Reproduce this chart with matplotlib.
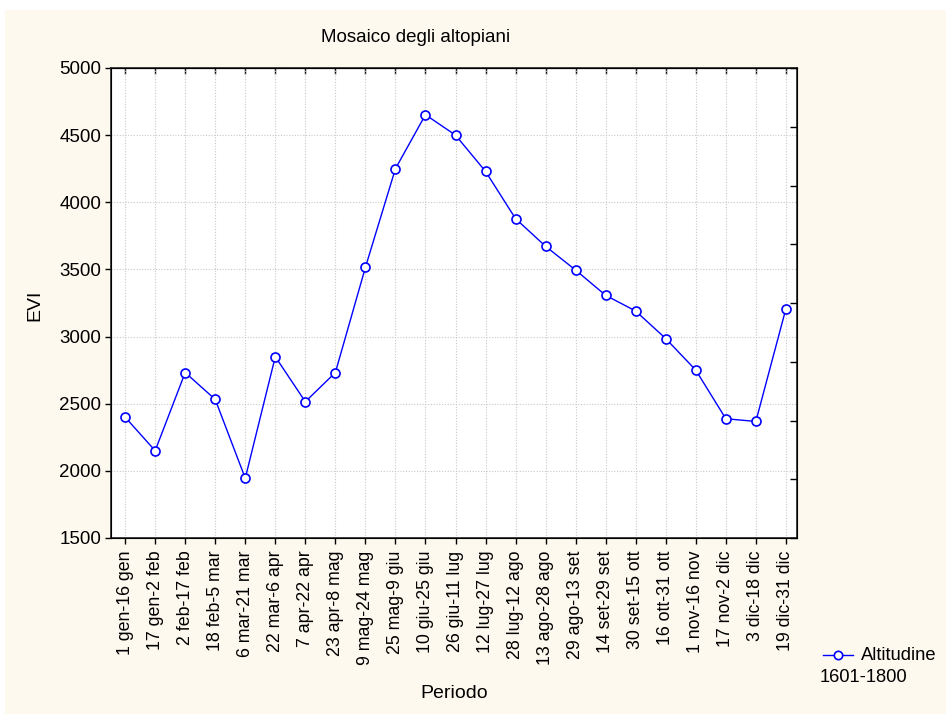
import matplotlib.pyplot as plt
from matplotlib.lines import Line2D
from matplotlib.patches import Rectangle
import numpy as np

plt.rcParams['font.family'] = ['Liberation Sans', 'DejaVu Sans']

# Periods (labels on x axis)
periodi = [
    "1 gen-16 gen", "17 gen-2 feb", "2 feb-17 feb", "18 feb-5 mar",
    "6 mar-21 mar", "22 mar-6 apr", "7 apr-22 apr", "23 apr-8 mag",
    "9 mag-24 mag", "25 mag-9 giu", "10 giu-25 giu", "26 giu-11 lug",
    "12 lug-27 lug", "28 lug-12 ago", "13 ago-28 ago", "29 ago-13 set",
    "14 set-29 set", "30 set-15 ott", "16 ott-31 ott", "1 nov-16 nov",
    "17 nov-2 dic", "3 dic-18 dic", "19 dic-31 dic",
]

# EVI values
evi = [2400, 2150, 2732, 2532, 1945, 2850, 2515, 2732, 3515, 4250, 4652,
       4500, 4230, 3878, 3672, 3495, 3307, 3190, 2985, 2750, 2388, 2368, 3207]

yticks = [1500, 2000, 2500, 3000, 3500, 4000, 4500, 5000]

blue = "#0000FF"
cream = "#FEF9EE"

fig = plt.figure(figsize=(9.46, 7.14), dpi=100, facecolor="white")
# cream background panel (white strip at top and left like the original)
fig.patches.append(Rectangle((5 / 946, 0), 1, 1 - 10 / 714,
                             transform=fig.transFigure, facecolor=cream,
                             edgecolor="none", zorder=-10))

ax = fig.add_axes([111 / 946, 1 - 538 / 714, 686 / 946, 470 / 714])
ax.set_facecolor("white")

x = np.arange(len(periodi))
ax.plot(x, evi, color=blue, lw=1.0, marker="o", markersize=6.5,
        markerfacecolor="white", markeredgecolor=blue, markeredgewidth=1.2,
        zorder=3)

ax.set_xlim(-0.47, len(periodi) - 1 + 0.37)
ax.set_ylim(1500, 5000)
ax.set_yticks(yticks)
ax.set_xticks(x)
ax.set_xticklabels(periodi, rotation=90, fontsize=12.8)
ax.tick_params(axis="y", labelsize=13.5, direction="out", length=4, width=1,
               pad=3)
ax.tick_params(axis="x", direction="out", length=4, width=1, pad=5)
ax.grid(True, color="#C8C8C8", linestyle=(0, (1, 1.5)), linewidth=0.8)
for s in ax.spines.values():
    s.set_linewidth(1.2)
    s.set_color("#222222")

# top ticks point inward
ax2 = ax.secondary_xaxis("top")
ax2.set_xticks(x)
ax2.set_xticklabels([])
ax2.tick_params(direction="in", length=4, width=1)

# right axis with its own inward ticks, no labels
ax3 = ax.twinx()
ax3.set_ylim(0, 8)
ax3.set_yticks(np.arange(0, 9))
ax3.set_yticklabels([])
ax3.tick_params(direction="in", length=5, width=1)

ax.set_ylabel("EVI", fontsize=14, va="center")
ax.yaxis.set_label_coords((35 - 111) / 686, (538 - 305) / 470)
ax.set_xlabel("Periodo", fontsize=14, va="center")
ax.xaxis.set_label_coords(0.5, (538 - 693) / 470)

fig.text(416 / 946, 1 - 37 / 714, "Mosaico degli altopiani", fontsize=13.5,
         ha="center", va="center")

# legend drawn in figure coordinates
fig.lines.append(Line2D([823 / 946, 853 / 946], [1 - 655 / 714] * 2,
                        transform=fig.transFigure, color=blue, lw=1.0))
fig.lines.append(Line2D([838 / 946], [1 - 655 / 714],
                        transform=fig.transFigure, color=blue, marker="o",
                        markersize=6, markerfacecolor="white",
                        markeredgewidth=1.2))
fig.text(861 / 946, 1 - 655 / 714, "Altitudine", fontsize=13.2, ha="left",
         va="center")
fig.text(820 / 946, 1 - 677 / 714, "1601-1800", fontsize=13.2, ha="left",
         va="center")

fig.savefig("out.png", dpi=100, facecolor=fig.get_facecolor())
